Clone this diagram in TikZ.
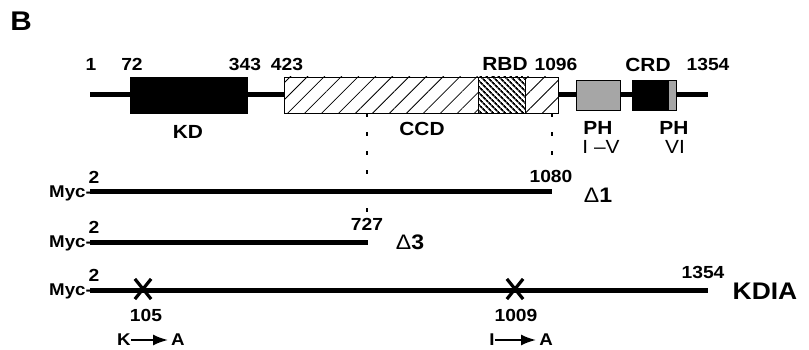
\documentclass[tikz,border=0pt]{standalone}
\usepackage{fontspec}
\setmainfont{Liberation Sans}[FakeStretch=1.1]
\usetikzlibrary{arrows.meta,positioning,patterns.meta,shapes.misc}

\begin{document}
\begin{tikzpicture}[x=1pt,y=-1pt,>={Latex[length=15pt,width=11pt]},num/.style={font=\bfseries\fontsize{17.5}{18}\selectfont,inner sep=0pt},dom/.style={font=\bfseries\fontsize{19}{20}\selectfont,inner sep=0pt},tag/.style={font=\bfseries\fontsize{17}{18}\selectfont,inner sep=0pt},backbone/.style={line width=5pt},box/.style={draw,line width=0.8pt,inner sep=0pt,minimum height=36pt},smallbox/.style={box,minimum height=30pt},cut/.style={line width=2pt,dash pattern=on 4pt off 15pt},mutx/.style={cross out,draw,line width=3.2pt,minimum width=13pt,minimum height=17pt,inner sep=0pt},swap/.style={->,line width=2pt,shorten >=3pt}]
\useasboundingbox (0,0) rectangle (809,350);
\node[font=\bfseries\fontsize{27}{28}\selectfont,inner sep=0pt] (panel) at (21,21) {B};
\coordinate (fullL) at (90,95);
\coordinate (fullR) at (708,95);
\draw[backbone] (fullL) -- (fullR);
\node[box,fill=black,minimum width=117pt] (kd) at (188.5,95) {};
\node[box,minimum width=274pt,preaction={fill=white},pattern={Lines[angle=45,distance=12pt,line width=0.8pt]}] (ccd) at (421,95) {};
\node[box,minimum width=47pt,preaction={fill=white},pattern={Lines[angle=-45,distance=4pt,line width=1.8pt]}] (rbd) at (501.5,95) {};
\node[smallbox,fill=gray!70,minimum width=44pt] (ph) at (598,95) {};
\node[smallbox,fill=black,minimum width=36pt] (crd) at (650,95) {};
\node[smallbox,fill=gray!70,minimum width=8pt,anchor=west] (ph6) at (crd.east) {};
\node[num] (n1) at (91,64) {1};
\node[num] (n72) at (132,64) {72};
\node[num] (n343) at (245,64) {343};
\node[num] (n423) at (287,64) {423};
\node[dom] (rbdlab) at (505,64) {RBD};
\node[num] (n1096) at (556,64) {1096};
\node[dom] (crdlab) at (648,65) {CRD};
\node[num] (n1354) at (708,64) {1354};
\node[dom] (kdlab) at (188,132) {KD};
\node[dom] (ccdlab) at (422,129) {CCD};
\node[dom] (phlab) at (598,128) {PH};
\node[dom,font=\mdseries\fontsize{19}{20}\selectfont] (phrange) at (601,147) {I –V};
\node[dom] (ph6lab) at (674,128) {PH};
\node[dom,font=\mdseries\fontsize{19}{20}\selectfont] (ph6range) at (675,147) {VI};
\coordinate (cut727) at (367,213);
\coordinate (cut1080) at (552,166);
\draw[cut] (ccd.south -| cut727) -- (cut727);
\draw[cut] (ccd.south -| cut1080) -- (cut1080);
\coordinate (d1L) at (90,192);
\coordinate (d1R) at (552,192);
\draw[backbone] (d1L) -- (d1R);
\node[tag,anchor=base east] (myc1) at (92,197) {Myc-};
\node[num] (d1start) at (94,177) {2};
\node[num] (d1end) at (551,176) {1080};
\node[dom,font=\fontsize{21}{22}\selectfont] (d1name) at (598,195) {{\mdseries Δ}\textbf{1}};
\coordinate (d3L) at (90,242);
\coordinate (d3R) at (368,242);
\draw[backbone] (d3L) -- (d3R);
\node[tag,anchor=base east] (myc3) at (92,247) {Myc-};
\node[num] (d3start) at (94,227) {2};
\node[num] (d3end) at (367,224) {727};
\node[dom,font=\fontsize{21}{22}\selectfont] (d3name) at (410,242) {{\mdseries Δ}\textbf{3}};
\coordinate (kdiaL) at (90,290);
\coordinate (kdiaR) at (708,290);
\draw[backbone] (kdiaL) -- (kdiaR);
\node[tag,anchor=base east] (myckdia) at (92,295) {Myc-};
\node[num] (kdiastart) at (94,275) {2};
\node[num] (kdiaend) at (703,272) {1354};
\node[font=\bfseries\fontsize{24}{25}\selectfont,inner sep=0pt] (kdianame) at (765,291) {KDIA};
\node[mutx] (x105) at (143,289) {};
\node[mutx] (x1009) at (515,289) {};
\node[num] (n105) at (146,315) {105};
\node[num] (n1009) at (516,315) {1009};
\node[tag] (kres) at (124,340) {K};
\node[tag] (ares1) at (178,340) {A};
\draw[swap] (kres.east) -- (ares1.west);
\node[tag] (ires) at (492,340) {I};
\node[tag] (ares2) at (546,340) {A};
\draw[swap] (ires.east) -- (ares2.west);
\end{tikzpicture}
\end{document}
